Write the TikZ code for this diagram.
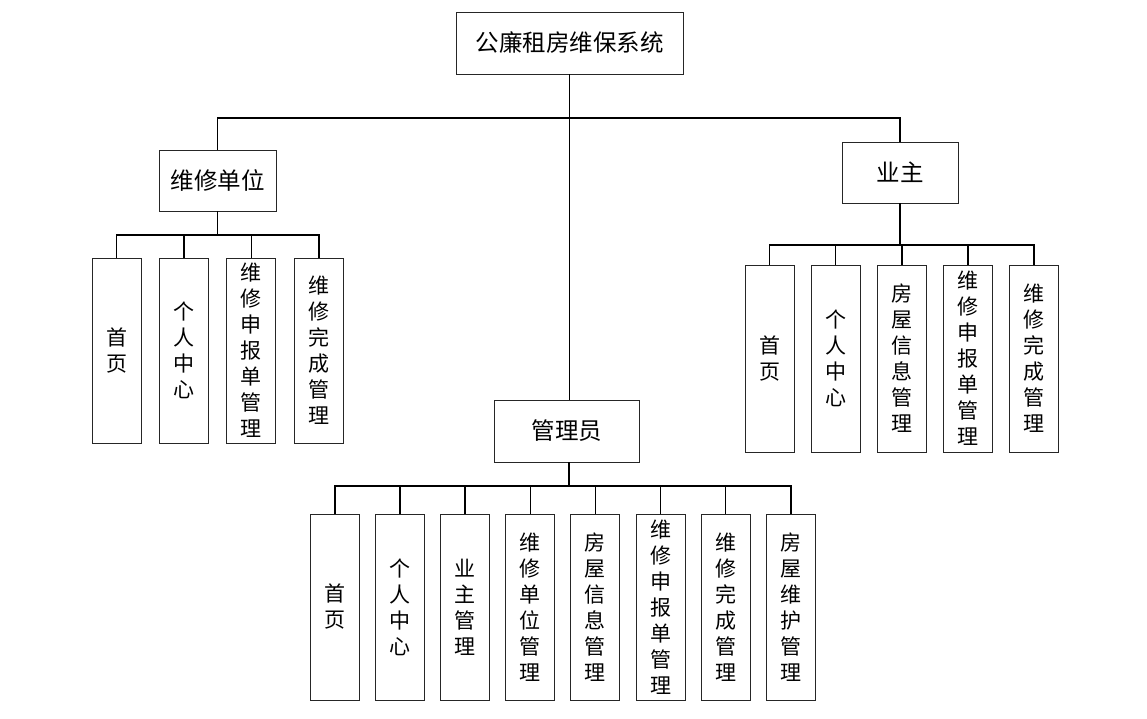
\documentclass[tikz,border=0pt]{standalone}
\usepackage{fontspec}
\setmainfont{Noto Sans CJK SC}
\usetikzlibrary{positioning}

\begin{document}
\begin{tikzpicture}[x=1pt,y=-1pt,
 role/.style={draw=black!85,line width=0.9pt,inner sep=0pt,font=\fontsize{23.5}{27}\selectfont},
 leaf/.style={draw=black!85,line width=0.9pt,inner sep=0pt,minimum width=49pt,align=center,font=\fontsize{21}{26}\selectfont},
 link/.style={line width=1.6pt}]
\useasboundingbox (0,0) rectangle (1147,719);
% root and the three roles
\node[role,minimum width=227pt,minimum height=62pt](sys) at (569.5,43){公廉租房维保系统};
\node[role,minimum width=117pt,minimum height=61pt](wxdw) at (217.5,180.5){维修单位};
\node[role,minimum width=116pt,minimum height=61pt](yz) at (900,172.5){业主};
\node[role,minimum width=145pt,minimum height=62pt](gly) at (567,431){管理员};
% maintenance unit
\node[leaf,minimum height=185pt](w1) at (116.5,350.5){首\\页};
\node[leaf,minimum height=185pt,right=17.5pt of w1](w2){个\\人\\中\\心};
\node[leaf,minimum height=185pt,right=17.5pt of w2](w3){维\\修\\申\\报\\单\\管\\理};
\node[leaf,minimum height=185pt,right=17.5pt of w3](w4){维\\修\\完\\成\\管\\理};
% owner
\node[leaf,minimum height=187pt](y1) at (769.5,358.5){首\\页};
\node[leaf,minimum height=187pt,right=16.25pt of y1](y2){个\\人\\中\\心};
\node[leaf,minimum height=187pt,right=16.25pt of y2](y3){房\\屋\\信\\息\\管\\理};
\node[leaf,minimum height=187pt,right=16.25pt of y3](y4){维\\修\\申\\报\\单\\管\\理};
\node[leaf,minimum height=187pt,right=16.25pt of y4](y5){维\\修\\完\\成\\管\\理};
% administrator
\node[leaf,minimum height=186pt](g1) at (335,607){首\\页};
\node[leaf,minimum height=186pt,right=15.2pt of g1](g2){个\\人\\中\\心};
\node[leaf,minimum height=186pt,right=15.2pt of g2](g3){业\\主\\管\\理};
\node[leaf,minimum height=186pt,right=15.2pt of g3](g4){维\\修\\单\\位\\管\\理};
\node[leaf,minimum height=186pt,right=15.2pt of g4](g5){房\\屋\\信\\息\\管\\理};
\node[leaf,minimum height=186pt,right=15.2pt of g5](g6){维\\修\\申\\报\\单\\管\\理};
\node[leaf,minimum height=186pt,right=15.2pt of g6](g7){维\\修\\完\\成\\管\\理};
\node[leaf,minimum height=186pt,right=15.2pt of g7](g8){房\\屋\\维\\护\\管\\理};
% buses
\coordinate (bus) at (569,118);
\coordinate (wbus) at (217.5,235);
\coordinate (ybus) at (900,245);
\coordinate (gbus) at (569,486);
% connectors
\draw[link](sys.south)--(sys.south |- gly.north);
\draw[link](wxdw.north)|-(bus)-|(yz.north);
\draw[link](wxdw.south)--(wbus);
\foreach \i in {1,...,4} \draw[link](w\i.north)|-(wbus);
\draw[link](yz.south)--(ybus);
\foreach \i in {1,...,5} \draw[link](y\i.north)|-(ybus);
\draw[link](gly.south -| gbus)--(gbus);
\foreach \i in {1,...,8} \draw[link](g\i.north)|-(gbus);
\end{tikzpicture}
\end{document}
